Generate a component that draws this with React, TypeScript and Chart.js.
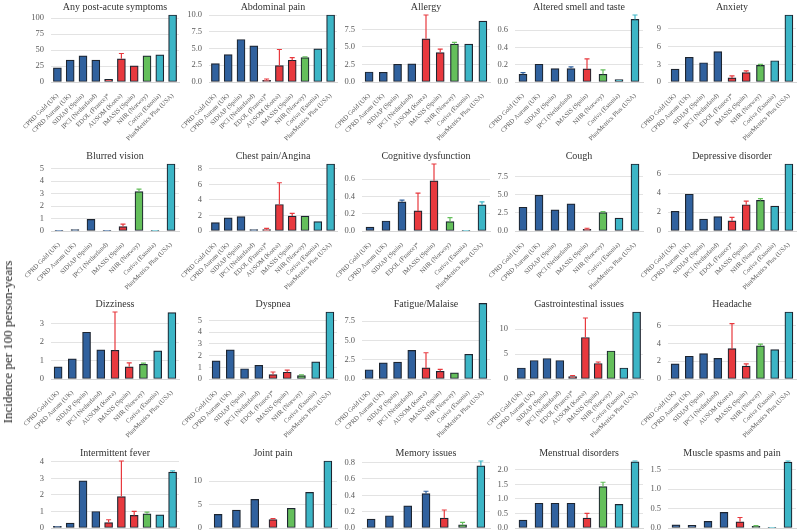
import React, { useEffect, useRef } from 'react';
import { Chart, registerables } from 'chart.js';

Chart.register(...registerables);

// ---- Databases (category labels) ----
const G = 'CPRD Gold (UK)';
const A = 'CPRD Aurum (UK)';
const S = 'SIDIAP (Spain)';
const I = 'IPCI (Netherland)';
const E = 'EDOL (France)*';
const K = 'AUSOM (Korea)';
const M = 'IMASIS (Spain)';
const N = 'NHR (Norway)';
const C = 'Coriva (Estonia)';
const P = 'PharMetrics Plus (USA)';

const yAxisTitle = 'Incidence per 100 person-years';

const titles = [
  'Any post-acute symptoms', 'Abdominal pain', 'Allergy', 'Altered smell and taste', 'Anxiety',
  'Blurred vision', 'Chest pain/Angina', 'Cognitive dysfunction', 'Cough', 'Depressive disorder',
  'Dizziness', 'Dyspnea', 'Fatigue/Malaise', 'Gastrointestinal issues', 'Headache',
  'Intermittent fever', 'Joint pain', 'Memory issues', 'Menstrual disorders', 'Muscle spasms and pain',
];

// ---- Data per panel: categories, incidence, upper CI ----
const anyPostAcuteCats = [G, A, S, I, E, K, M, N, C, P];
const anyPostAcuteVals = [22.1, 34.2, 41, 34.2, 4.2, 36.3, 25.3, 41, 42.6, 105];
const anyPostAcuteErrs = [null, null, null, null, null, 44.7, null, null, null, null];

const abdominalCats = [G, A, S, I, E, K, M, N, C, P];
const abdominalVals = [2.75, 4.1, 6.35, 5.4, 0.25, 2.45, 3.25, 3.65, 4.95, 10.0];
const abdominalErrs = [null, null, null, null, 0.45, 4.85, 3.65, 3.75, null, null];

const allergyCats = [G, A, S, I, K, M, N, C, P];
const allergyVals = [1.43, 1.39, 2.53, 2.58, 6.17, 4.2, 5.4, 5.4, 8.7];
const allergyErrs = [null, null, null, null, 9.56, 4.68, 5.64, null, null];

const smellCats = [G, A, S, I, M, N, C, P];
const smellVals = [0.089, 0.205, 0.155, 0.155, 0.151, 0.089, 0.027, 0.723];
const smellErrs = [0.108, null, null, 0.174, 0.267, 0.139, null, 0.774];

const anxietyCats = [G, A, S, I, E, M, N, C, P];
const anxietyVals = [2.18, 4.19, 3.27, 5.16, 0.69, 1.6, 2.81, 3.61, 11.36];
const anxietyErrs = [null, null, null, null, 1.03, 1.89, 2.98, null, null];

const blurredCats = [G, A, S, I, M, N, C, P];
const blurredVals = [0.05, 0.11, 0.93, 0.05, 0.36, 3.17, 0.01, 5.38];
const blurredErrs = [null, null, null, null, 0.55, 3.36, null, null];

const chestCats = [G, A, S, I, E, K, M, N, C, P];
const chestVals = [1.09, 1.7, 1.84, 0.17, 0.17, 3.41, 1.92, 1.92, 1.22, 8.61];
const chestErrs = [null, null, null, null, 0.35, 6.2, 2.27, null, null, null];

const cognitiveCats = [G, A, S, E, M, N, C, P];
const cognitiveVals = [0.046, 0.116, 0.337, 0.232, 0.58, 0.108, 0.008, 0.302];
const cognitiveErrs = [null, null, 0.356, 0.437, 0.774, 0.155, null, 0.337];

const coughCats = [G, A, S, I, M, N, C, P];
const coughVals = [3.28, 4.92, 2.91, 3.75, 0.23, 2.53, 1.78, 9.24];
const coughErrs = [null, null, null, null, 0.38, 2.67, null, null];

const depressiveCats = [G, A, S, I, E, M, N, C, P];
const depressiveVals = [2.08, 3.88, 1.26, 1.51, 1.08, 2.77, 3.23, 2.62, 7.07];
const depressiveErrs = [null, null, null, null, 1.44, 3.16, 3.41, null, null];

const dizzinessCats = [G, A, S, I, K, M, N, C, P];
const dizzinessVals = [0.66, 1.09, 2.54, 1.58, 1.56, 0.66, 0.8, 1.53, 3.61];
const dizzinessErrs = [null, null, null, null, 3.64, 0.88, 0.86, null, null];

const dyspneaCats = [G, A, S, I, E, M, N, C, P];
const dyspneaVals = [1.55, 2.5, 0.88, 1.17, 0.38, 0.58, 0.29, 1.46, 5.73];
const dyspneaErrs = [null, null, null, null, 0.6, 0.76, 0.35, null, null];

const fatigueCats = [G, A, S, I, K, M, N, C, P];
const fatigueVals = [1.2, 2.1, 2.2, 3.7, 1.44, 1.0, 0.8, 3.2, 9.8];
const fatigueErrs = [null, null, null, null, 3.4, 1.25, null, null, null];

const gastroCats = [G, A, S, I, E, K, M, N, C, P];
const gastroVals = [2.2, 3.7, 4.1, 3.7, 0.5, 8.3, 3.1, 5.6, 2.2, 13.4];
const gastroErrs = [null, null, null, null, 0.7, 12.2, 3.4, null, null, null];

const headacheCats = [G, A, S, I, K, M, N, C, P];
const headacheVals = [1.7, 2.55, 2.85, 2.3, 3.4, 1.45, 3.7, 3.3, 7.5];
const headacheErrs = [null, null, null, null, 6.2, 1.7, 3.9, null, null];

const feverCats = [G, A, S, I, E, K, M, N, C, P];
const feverVals = [0.1, 0.3, 2.85, 1.0, 0.33, 1.9, 0.76, 0.86, 0.8, 3.38];
const feverErrs = [null, null, null, null, 0.5, 4.05, 1.0, 0.96, null, 3.45];

const jointCats = [G, A, S, M, N, C, P];
const jointVals = [2.9, 3.8, 6.1, 1.8, 4.2, 7.6, 14.3];
const jointErrs = [null, null, null, 2.0, null, null, null];

const memoryCats = [G, A, S, I, M, N, P];
const memoryVals = [0.11, 0.15, 0.27, 0.42, 0.12, 0.04, 0.76];
const memoryErrs = [null, null, null, 0.45, 0.22, 0.07, 0.82];

const menstrualCats = [G, A, S, I, M, N, C, P];
const menstrualVals = [0.27, 0.85, 0.85, 0.85, 0.34, 1.42, 0.81, 2.27];
const menstrualErrs = [null, null, null, null, 0.5, 1.57, null, 2.3];

const muscleCats = [G, A, S, I, M, N, C, P];
const muscleVals = [0.08, 0.07, 0.17, 0.4, 0.16, 0.04, 0.01, 1.69];
const muscleErrs = [null, null, null, null, 0.27, 0.06, null, 1.72];

// y tick step per panel
const tickSteps = [25, 2.5, 2.5, 0.2, 3, 1, 2, 0.2, 2.5, 2, 1, 1, 2.5, 5, 2, 1, 5, 0.2, 0.5, 0.5];
// axis max overrides (null = fit data)
const axisMaxOverrides = [null, null, null, null, null, null, null, null, null, null, null, null, 8.68, null, null, null, null, null, null, null];

const panelCats = [anyPostAcuteCats, abdominalCats, allergyCats, smellCats, anxietyCats, blurredCats, chestCats, cognitiveCats, coughCats, depressiveCats, dizzinessCats, dyspneaCats, fatigueCats, gastroCats, headacheCats, feverCats, jointCats, memoryCats, menstrualCats, muscleCats];
const panelVals = [anyPostAcuteVals, abdominalVals, allergyVals, smellVals, anxietyVals, blurredVals, chestVals, cognitiveVals, coughVals, depressiveVals, dizzinessVals, dyspneaVals, fatigueVals, gastroVals, headacheVals, feverVals, jointVals, memoryVals, menstrualVals, muscleVals];
const panelErrs = [anyPostAcuteErrs, abdominalErrs, allergyErrs, smellErrs, anxietyErrs, blurredErrs, chestErrs, cognitiveErrs, coughErrs, depressiveErrs, dizzinessErrs, dyspneaErrs, fatigueErrs, gastroErrs, headacheErrs, feverErrs, jointErrs, memoryErrs, menstrualErrs, muscleErrs];

// ---- Styles ----
const FONT = "'Liberation Serif', 'Times New Roman', serif";
const BLUE = '#30619e';
const RED = '#e8393e';
const GREEN = '#64bf5b';
const CYAN = '#3cb5c6';
const BORDER = '#1d2530';

function colorFor(db: string): string {
  if (db === G || db === A || db === S || db === I) return BLUE;
  if (db === E || db === K || db === M) return RED;
  if (db === N) return GREEN;
  return CYAN;
}

const PLOT_LEFTS = [51, 208.6, 362.2, 514.7, 668];
const Y_AXIS_W = 48;
const PLOT_W = 128;
const PAD_R = 4;
const TITLE_H = 15;
const CANVAS_W = Y_AXIS_W + PLOT_W + PAD_R;
const CANVAS_H = 148;
const ROW_STEP = 148.5;
const X_AXIS_H = 66;

function makeErrPlugin(errs: (number | null)[], colors: string[]) {
  return {
    id: 'errbars',
    afterDatasetsDraw(chart: any) {
      const meta = chart.getDatasetMeta(0);
      const y = chart.scales.y;
      const ctx = chart.ctx;
      ctx.save();
      errs.forEach((e, i) => {
        if (e == null) return;
        const bar = meta.data[i];
        if (!bar) return;
        const x = bar.x;
        const yt = y.getPixelForValue(e);
        const yb = bar.y;
        ctx.strokeStyle = colors[i];
        ctx.lineWidth = 1.2;
        ctx.beginPath();
        ctx.moveTo(x, yb);
        ctx.lineTo(x, yt);
        ctx.moveTo(x - 2.5, yt);
        ctx.lineTo(x + 2.5, yt);
        ctx.stroke();
      });
      ctx.restore();
    },
  };
}

// Panel title centred over the plot area
function makeTitlePlugin(text: string) {
  return {
    id: 'panelTitle',
    afterDraw(chart: any) {
      const { ctx, chartArea } = chart;
      ctx.save();
      ctx.font = `10px ${FONT}`;
      ctx.fillStyle = '#333333';
      ctx.textAlign = 'center';
      ctx.textBaseline = 'middle';
      ctx.fillText(text, (chartArea.left + chartArea.right) / 2, 7.5);
      ctx.restore();
    },
  };
}

function Panel({ idx }: { idx: number }) {
  const ref = useRef<HTMLCanvasElement | null>(null);
  const row = Math.floor(idx / 5);
  const col = idx % 5;

  useEffect(() => {
    if (!ref.current) return;
    const cats = panelCats[idx];
    const vals = panelVals[idx];
    const errs = panelErrs[idx];
    const step = tickSteps[idx];
    const decimals = Number.isInteger(step) ? 0 : 1;
    const all = [...vals, ...(errs.filter((e) => e != null) as number[])];
    const max = axisMaxOverrides[idx] ?? Math.max(...all);
    const colors = cats.map(colorFor);

    const chart = new Chart(ref.current, {
      type: 'bar',
      data: {
        labels: cats,
        datasets: [
          {
            data: vals,
            backgroundColor: colors,
            borderColor: BORDER,
            borderWidth: 1.2,
            borderSkipped: false,
            barThickness: 8,
            clip: false as any,
          },
        ],
      },
      options: {
        animation: false,
        responsive: false,
        maintainAspectRatio: false,
        devicePixelRatio: 1,
        layout: { padding: { top: TITLE_H, right: PAD_R, bottom: 0, left: 0 } },
        plugins: {
          legend: { display: false },
          tooltip: { enabled: false },
          title: { display: false },
        },
        scales: {
          x: {
            grid: { display: false },
            border: { display: true, color: '#d6d6d6' },
            ticks: {
              font: { family: FONT, size: 6.5 },
              color: '#5a5a5a',
              minRotation: 45,
              maxRotation: 45,
              autoSkip: false,
              padding: 2,
            },
            afterFit: (s: any) => {
              s.height = X_AXIS_H;
            },
          },
          y: {
            min: 0,
            max,
            grid: { color: '#e3e3e3', drawTicks: false, lineWidth: 1 },
            border: { display: false },
            ticks: {
              stepSize: step,
              includeBounds: false,
              font: { family: FONT, size: 8.5 },
              color: '#5a5a5a',
              padding: 7,
              callback: (v: any) => Number(v).toFixed(decimals),
            },
            afterBuildTicks: (s: any) => {
              s.ticks = s.ticks.filter(
                (t: any) => t.value <= max + 1e-9 && Math.abs(t.value / step - Math.round(t.value / step)) < 1e-6
              );
            },
            afterFit: (s: any) => {
              s.width = Y_AXIS_W;
            },
          },
        },
      },
      plugins: [makeErrPlugin(errs, colors), makeTitlePlugin(titles[idx])],
    } as any);
    return () => chart.destroy();
  }, [idx]);

  return (
    <canvas
      ref={ref}
      width={CANVAS_W}
      height={CANVAS_H}
      style={{
        position: 'absolute',
        left: Math.round(PLOT_LEFTS[col] - Y_AXIS_W),
        top: Math.round(row * ROW_STEP),
        width: CANVAS_W,
        height: CANVAS_H,
      }}
    />
  );
}

export default function App() {
  return (
    <div style={{ position: 'absolute', left: 0, top: 0, width: 800, height: 594, background: '#ffffff', overflow: 'hidden' }}>
      {titles.map((_, i) => (
        <Panel key={i} idx={i} />
      ))}
      <div
        style={{
          position: 'absolute',
          left: 8,
          top: 342,
          transform: 'translate(-50%, -50%) rotate(-90deg)',
          whiteSpace: 'nowrap',
          fontFamily: FONT,
          fontSize: 13,
          color: '#222222',
        }}
      >
        {yAxisTitle}
      </div>
    </div>
  );
}
